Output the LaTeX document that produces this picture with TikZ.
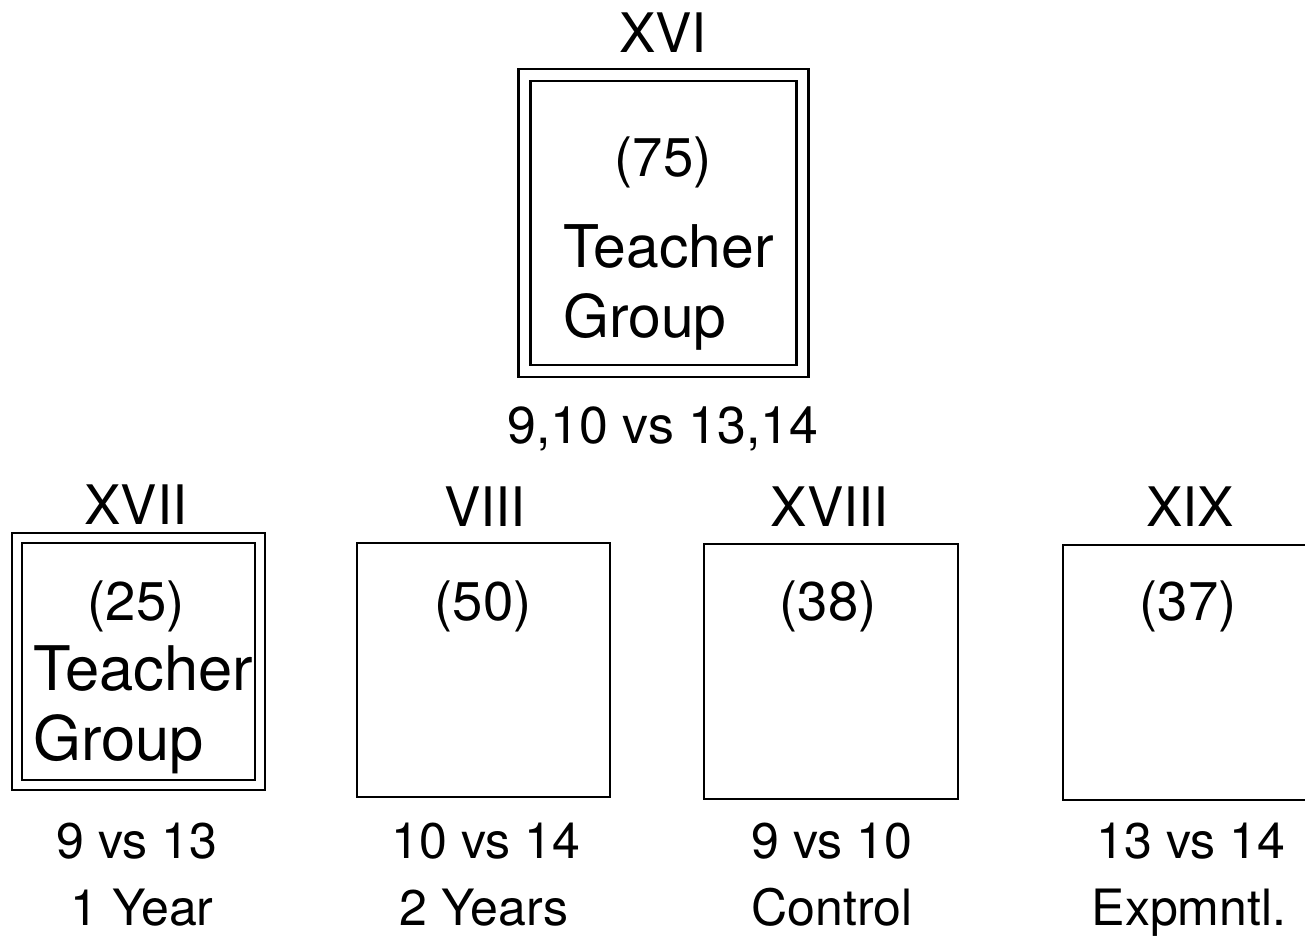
\documentclass[tikz,border=0pt]{standalone}
\usepackage{fontspec}
\setmainfont{TeX Gyre Heros}

\begin{document}
\begin{tikzpicture}[x=0.02cm,y=-0.02cm]
    \tikzstyle{grp}=[rectangle,draw=black,line width=1.35pt,inner sep=0pt]
    \tikzstyle{tgrp}=[grp,double,double distance=0.19cm]
    \tikzstyle{big}=[font=\fontsize{31}{37}\selectfont,inner sep=0pt]
    \tikzstyle{word}=[font=\fontsize{33.5}{40}\selectfont,inner sep=0pt]
    \tikzstyle{small}=[font=\fontsize{28.5}{34}\selectfont,inner sep=0pt]

    \useasboundingbox (0,0) rectangle (1305,936);

    % teacher group (top)
    \node[tgrp,minimum width=5.56cm,minimum height=5.93cm](xvi) at (663.5,223){};
    \node[big,anchor=base](xvinum) at (663,53){XVI};
    \node[big,anchor=base](xvin) at (663,176){(75)};
    \node[word,anchor=base west](xvit) at (563,267){Teacher};
    \node[word,anchor=base west](xvig) at (563,337){Group};
    \node[small,font=\fontsize{29.5}{35}\selectfont,anchor=base](xvicmp) at (663,443){9,10 vs 13,14};

    % bottom row
    \node[tgrp,double distance=0.15cm,minimum width=4.86cm,minimum height=4.94cm](xvii) at (138.5,661.5){};
    \node[grp,minimum width=5.06cm,minimum height=5.08cm](viii) at (483.5,670){};
    \node[grp,minimum width=5.08cm,minimum height=5.1cm](xviii) at (831,671.5){};
    \node[grp,minimum width=5.08cm,minimum height=5.1cm](xix) at (1190,672.5){};

    \node[big,anchor=base](xviinum) at (136,524){XVII};
    \node[big,anchor=base](viiinum) at (485,526){VIII};
    \node[big,anchor=base](xviiinum) at (830,526){XVIII};
    \node[big,anchor=base](xixnum) at (1190,526){XIX};

    \node[big,anchor=base](xviin) at (136,620){(25)};
    \node[word,font=\fontsize{35}{42}\selectfont,anchor=base west](xviit) at (33,690){Teacher};
    \node[word,font=\fontsize{35}{42}\selectfont,anchor=base west](xviig) at (33,760){Group};
    \node[big,anchor=base](viiin) at (483,620){(50)};
    \node[big,anchor=base](xviiin) at (828,620){(38)};
    \node[big,anchor=base](xixn) at (1188,620){(37)};

    \node[small,anchor=base](xviicmp) at (137,858){9 vs 13};
    \node[small,anchor=base](viiicmp) at (486,858){10 vs 14};
    \node[small,anchor=base](xviiicmp) at (832,858){9 vs 10};
    \node[small,anchor=base](xixcmp) at (1191,858){13 vs 14};

    \node[small,anchor=base](xviilen) at (142,925){1 Year};
    \node[small,anchor=base](viiilen) at (484,925){2 Years};
    \node[small,anchor=base](xviiilen) at (832,925){Control};
    \node[small,anchor=base](xixlen) at (1189,925){Expmntl.};
\end{tikzpicture}
\end{document}
